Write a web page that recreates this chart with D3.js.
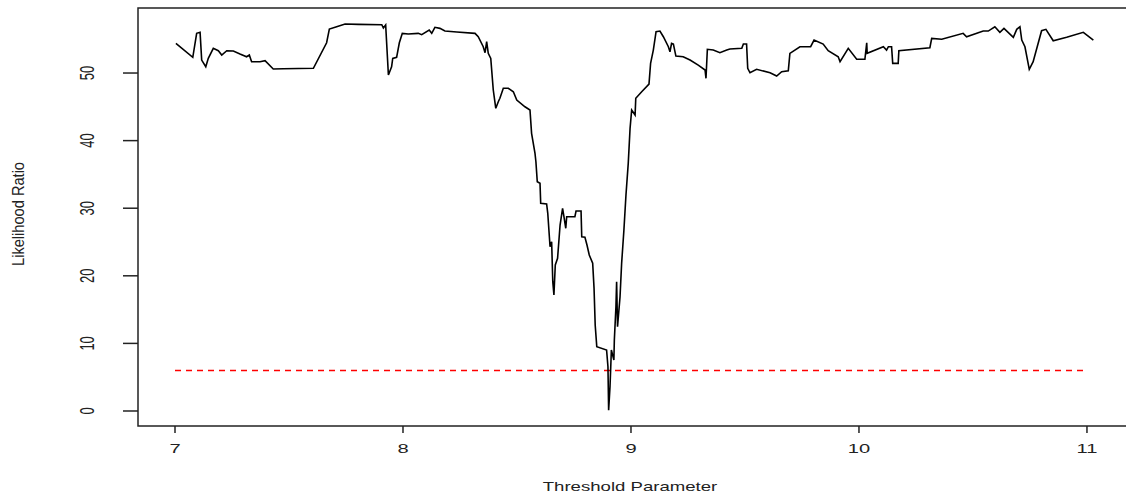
<!DOCTYPE html>
<html><head><meta charset="utf-8">
<script src="https://cdn.jsdelivr.net/npm/d3@7"></script>
<style>html,body{margin:0;padding:0;background:#fff;}svg{display:block;}</style>
</head><body>
<svg id="chart" width="1126" height="496"></svg>
<script>
const thresholdParam = [7.004,7.078,7.095,7.110,7.117,7.135,7.146,7.168,7.190,7.205,7.227,7.256,7.285,7.314,7.326,7.336,7.373,7.395,7.431,7.475,7.607,7.665,7.677,7.709,7.746,7.804,7.907,7.914,7.924,7.936,7.950,7.955,7.972,7.984,7.997,8.023,8.067,8.082,8.115,8.126,8.140,8.162,8.184,8.236,8.316,8.330,8.352,8.360,8.367,8.374,8.385,8.396,8.407,8.418,8.425,8.440,8.462,8.484,8.499,8.535,8.557,8.564,8.579,8.583,8.589,8.601,8.604,8.630,8.635,8.640,8.645,8.652,8.657,8.662,8.668,8.678,8.689,8.700,8.706,8.714,8.718,8.754,8.759,8.781,8.784,8.798,8.807,8.817,8.832,8.838,8.843,8.850,8.893,8.899,8.902,8.908,8.914,8.925,8.927,8.934,8.937,8.941,8.952,8.959,8.969,8.978,8.988,8.996,9.003,9.018,9.021,9.047,9.079,9.086,9.098,9.110,9.127,9.142,9.164,9.171,9.178,9.186,9.197,9.229,9.259,9.295,9.325,9.329,9.335,9.361,9.390,9.420,9.434,9.486,9.493,9.507,9.512,9.522,9.551,9.610,9.639,9.661,9.690,9.697,9.741,9.788,9.803,9.843,9.865,9.909,9.917,9.953,9.990,10.026,10.034,10.036,10.107,10.121,10.129,10.143,10.148,10.172,10.175,10.311,10.319,10.363,10.457,10.472,10.545,10.567,10.596,10.618,10.636,10.677,10.692,10.706,10.714,10.728,10.747,10.764,10.801,10.820,10.852,10.911,10.984,11.028];
const likelihoodRatio = [54.39,52.32,55.87,56.02,51.92,50.93,52.17,53.65,53.30,52.66,53.30,53.25,52.81,52.41,52.66,51.67,51.67,51.82,50.59,50.64,50.70,54.48,56.51,56.85,57.25,57.20,57.14,56.66,57.10,49.70,50.93,52.17,52.32,54.48,55.87,55.77,55.87,55.67,56.36,55.87,56.76,56.61,56.21,56.07,55.87,55.37,53.89,53.00,54.63,52.91,52.17,47.49,44.78,45.75,46.26,47.74,47.74,47.23,46.01,45.01,44.53,41.08,38.12,36.88,33.92,33.68,30.72,30.62,29.25,26.78,24.30,25.04,19.13,17.16,21.60,22.59,27.51,29.99,28.74,27.03,28.74,28.74,29.59,29.59,25.78,25.70,24.56,23.08,21.85,18.15,12.72,9.51,9.02,6.55,0.10,3.59,9.02,7.54,10.50,15.43,19.13,12.47,16.91,21.85,26.78,31.95,36.64,41.82,44.53,43.79,46.26,47.23,48.37,51.43,53.40,56.11,56.21,55.37,53.89,53.15,54.39,54.29,52.51,52.41,51.92,51.18,50.44,49.22,53.51,53.40,53.00,53.40,53.55,53.65,54.29,54.29,50.70,50.04,50.55,50.04,49.56,50.19,50.34,52.91,53.89,53.89,54.88,54.29,53.30,52.41,51.67,53.65,52.03,52.03,54.48,52.91,53.89,53.40,53.89,53.89,51.43,51.43,53.30,53.74,55.13,54.99,55.87,55.37,56.21,56.21,56.85,56.02,56.61,55.28,56.46,56.85,54.88,53.89,50.55,51.67,56.26,56.46,54.78,55.28,56.02,54.88];
const criticalValue = 5.99;
const xTicks = [7, 8, 9, 10, 11];
const yTicks = [0, 10, 20, 30, 40, 50];
const xLabel = "Threshold Parameter";
const yLabel = "Likelihood Ratio";

const svg = d3.select("#chart");
const L = 138, T = 8, R = 1128, B = 426;
const SX = 1.55; // horizontal stretch of the original picture
const x = d3.scaleLinear().domain([6.8377, 11.18]).range([L, R]);
const y = d3.scaleLinear().domain([-2.22, 59.62]).range([B, T]);

// y ticks
svg.append("g").selectAll("line").data(yTicks).join("line")
  .attr("x1", L - 15).attr("x2", L).attr("y1", d => y(d)).attr("y2", d => y(d))
  .attr("stroke", "#222").attr("stroke-width", 1.5);
svg.append("g").selectAll("text").data(yTicks).join("text")
  .attr("transform", d => `translate(94,${y(d)}) scale(${SX},1) rotate(-90)`)
  .attr("text-anchor", "middle")
  .attr("font-family", "Liberation Sans, Arial, sans-serif").attr("font-size", 13)
  .attr("fill", "#222").text(d => d);

// x ticks
svg.append("g").selectAll("line").data(xTicks).join("line")
  .attr("x1", d => x(d)).attr("x2", d => x(d)).attr("y1", B).attr("y2", B + 7)
  .attr("stroke", "#222").attr("stroke-width", 1.5);
svg.append("g").selectAll("text").data(xTicks).join("text")
  .attr("transform", d => `translate(${x(d)},453) scale(${SX},1)`)
  .attr("text-anchor", "middle")
  .attr("font-family", "Liberation Sans, Arial, sans-serif").attr("font-size", 13)
  .attr("fill", "#222").text(d => d);

// axis titles
svg.append("text")
  .attr("transform", `translate(${(L + R) / 2 - 3},491) scale(${SX},1)`)
  .attr("text-anchor", "middle")
  .attr("font-family", "Liberation Sans, Arial, sans-serif").attr("font-size", 12)
  .attr("fill", "#222").text(xLabel);
svg.append("text")
  .attr("transform", `translate(24,${(T + B) / 2 - 3}) scale(1.3,1) rotate(-90)`)
  .attr("text-anchor", "middle")
  .attr("font-family", "Liberation Sans, Arial, sans-serif").attr("font-size", 13)
  .attr("textLength", 104).attr("lengthAdjust", "spacingAndGlyphs")
  .attr("fill", "#222").text(yLabel);

// critical value line
svg.append("line")
  .attr("x1", x(7)).attr("x2", x(11)).attr("y1", y(criticalValue)).attr("y2", y(criticalValue))
  .attr("stroke", "#ff0000").attr("stroke-width", 1.3).attr("stroke-dasharray", "6,5");

// data line
const pts = thresholdParam.map((t, i) => [t, likelihoodRatio[i]]);
svg.append("path").datum(pts)
  .attr("fill", "none").attr("stroke", "#000").attr("stroke-width", 1.6)
  .attr("stroke-linejoin", "miter")
  .attr("d", d3.line().x(d => x(d[0])).y(d => y(d[1])));

// box
svg.append("rect").attr("x", L).attr("y", T).attr("width", R - L).attr("height", B - T)
  .attr("fill", "none").attr("stroke", "#222").attr("stroke-width", 1.5);
</script>
</body></html>
